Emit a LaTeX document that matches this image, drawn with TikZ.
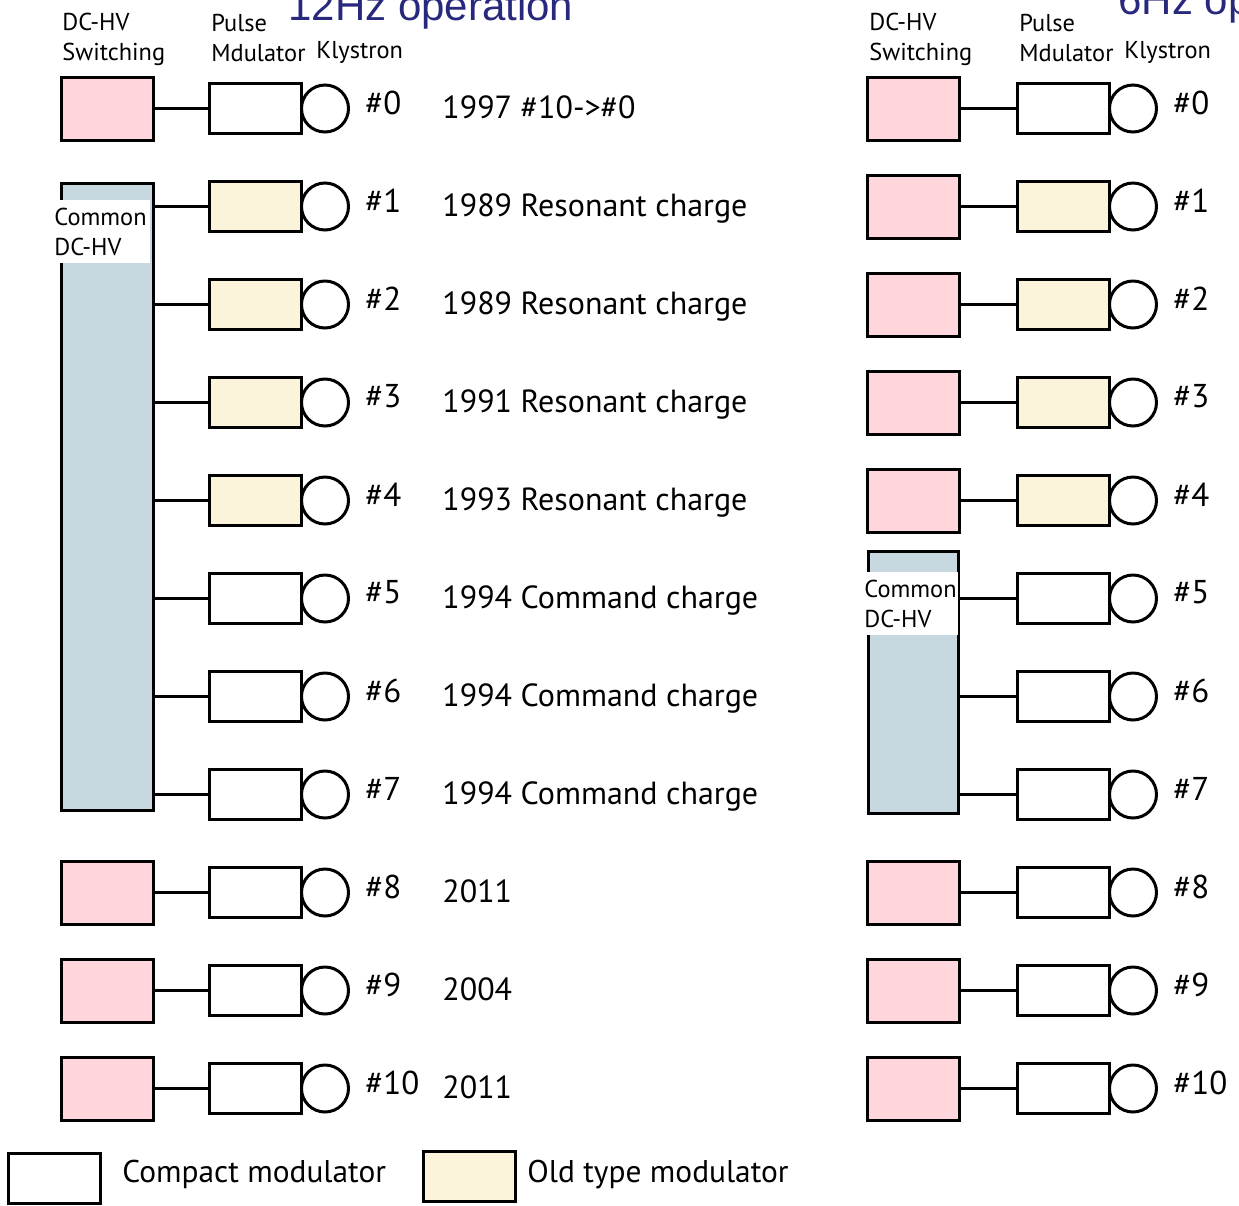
\documentclass[tikz,border=0pt]{standalone}
\usepackage{fontspec}
\setmainfont{PT Sans}
\newfontfamily\headfont{Liberation Sans}
\usetikzlibrary{positioning}

\definecolor{dcpink}{RGB}{255,214,220}
\definecolor{oldyellow}{RGB}{251,243,218}
\definecolor{commonblue}{RGB}{200,216,224}
\definecolor{titleblue}{RGB}{40,40,125}

\begin{document}
\begin{tikzpicture}[
    x=0.5pt, y=-0.5pt,
    switching/.style = {rectangle, draw, line width=1.5pt, fill=dcpink, minimum width=46pt, minimum height=31.5pt, inner sep=0pt},
    modulator/.style = {rectangle, draw, line width=1.5pt, fill=white, minimum width=46pt, minimum height=25pt, inner sep=0pt},
    klystron/.style = {circle, draw, line width=1.5pt, fill=white, minimum size=23.5pt, inner sep=0pt},
    common/.style = {rectangle, draw, line width=1.5pt, fill=commonblue, minimum width=46pt, inner sep=0pt},
    commonlabel/.style = {anchor=north west, fill=white, align=left, inner sep=1pt, text width=47pt, minimum height=31.5pt, font=\fontsize{12.2}{15}\selectfont},
    header/.style = {align=left, inner sep=0pt, font=\fontsize{12.2}{15}\selectfont},
    number/.style = {inner sep=0pt, font=\fontsize{16.5}{18}\selectfont},
    remark/.style = {inner sep=0pt, anchor=base west, font=\fontsize{16}{18}\selectfont},
    legendtext/.style = {remark, font=\fontsize{15.7}{18}\selectfont},
    title/.style = {inner sep=0pt, anchor=base west, text=titleblue, font=\headfont\fontsize{21}{25}\selectfont},
    link/.style = {line width=1.2pt}]

    \useasboundingbox (0,0) rectangle (1239,1206);
    \clip (0,0) rectangle (1239,1206);

    % titles and column heads
    \node[title] (titleL) at (288,20) {12Hz operation};
    \node[title] (titleR) at (1118,14) {6Hz operation};
    \node[header, anchor=north west] (headSL) at (62,13) {DC-HV\\Switching};
    \node[header, anchor=north west] (headPL) at (211,14) {Pulse\\Mdulator};
    \node[header, anchor=base west] (headKL) at (316,58) {Klystron};
    \node[header, anchor=north west] (headSR) at (869,13) {DC-HV\\Switching};
    \node[header, anchor=north west] (headPR) at (1019,14) {Pulse\\Mdulator};
    \node[header, anchor=base west] (headKR) at (1124,58) {Klystron};

    % modulators and klystrons
    \foreach \i/\modfill/\desc in {0/white/{1997 \#10->\#0}, 1/oldyellow/{1989 Resonant charge}, 2/oldyellow/{1989 Resonant charge}, 3/oldyellow/{1991 Resonant charge}, 4/oldyellow/{1993 Resonant charge}, 5/white/{1994 Command charge}, 6/white/{1994 Command charge}, 7/white/{1994 Command charge}, 8/white/{2011}, 9/white/{2004}, 10/white/{2011}} {
        \pgfmathsetmacro\rowy{108.5+98*\i}
        \node[modulator, fill=\modfill] (mL\i) at (255.5,\rowy) {};
        \node[klystron, right=-1.5pt of mL\i] (kL\i) {};
        \node[number, right=7.5pt of kL\i, yshift=3pt] (nL\i) {\#\i};
        \node[remark] (dL\i) at (442,\rowy+10) {\desc};
        \node[modulator, fill=\modfill] (mR\i) at (1063.5,\rowy) {};
        \node[klystron, right=-1.5pt of mR\i] (kR\i) {};
        \node[number, right=7.5pt of kR\i, yshift=3pt] (nR\i) {\#\i};
    }

    % DC-HV switching units
    \foreach \i in {0,8,9,10} {
        \pgfmathsetmacro\rowy{108.5+98*\i}
        \node[switching] (sL\i) at (107.5,\rowy) {};
        \draw[link] (sL\i) -- (mL\i);
    }
    \foreach \i in {0,1,2,3,4,8,9,10} {
        \pgfmathsetmacro\rowy{108.5+98*\i}
        \node[switching] (sR\i) at (913.5,\rowy) {};
        \draw[link] (sR\i) -- (mR\i);
    }

    % common DC-HV
    \node[common, minimum height=313.5pt] (cL) at (107.5,497) {};
    \node[commonlabel] (cLtext) at (52,200) {Common\\DC-HV};
    \foreach \i in {1,...,7}
        \draw[link] (cL.east |- mL\i) -- (mL\i);
    \node[common, minimum width=45pt, minimum height=131pt] (cR) at (913.5,682.5) {};
    \node[commonlabel, text width=46pt] (cRtext) at (862,572) {Common\\DC-HV};
    \foreach \i in {5,6,7}
        \draw[link] (cR.east |- mR\i) -- (mR\i);

    % legend
    \node[modulator] (legCompact) at (54.5,1178.5) {};
    \node[legendtext] (legCompactText) at (122,1182) {Compact modulator};
    \node[modulator, fill=oldyellow] (legOld) at (469,1176.5) {};
    \node[legendtext] (legOldText) at (527,1182) {Old type modulator};
\end{tikzpicture}
\end{document}
